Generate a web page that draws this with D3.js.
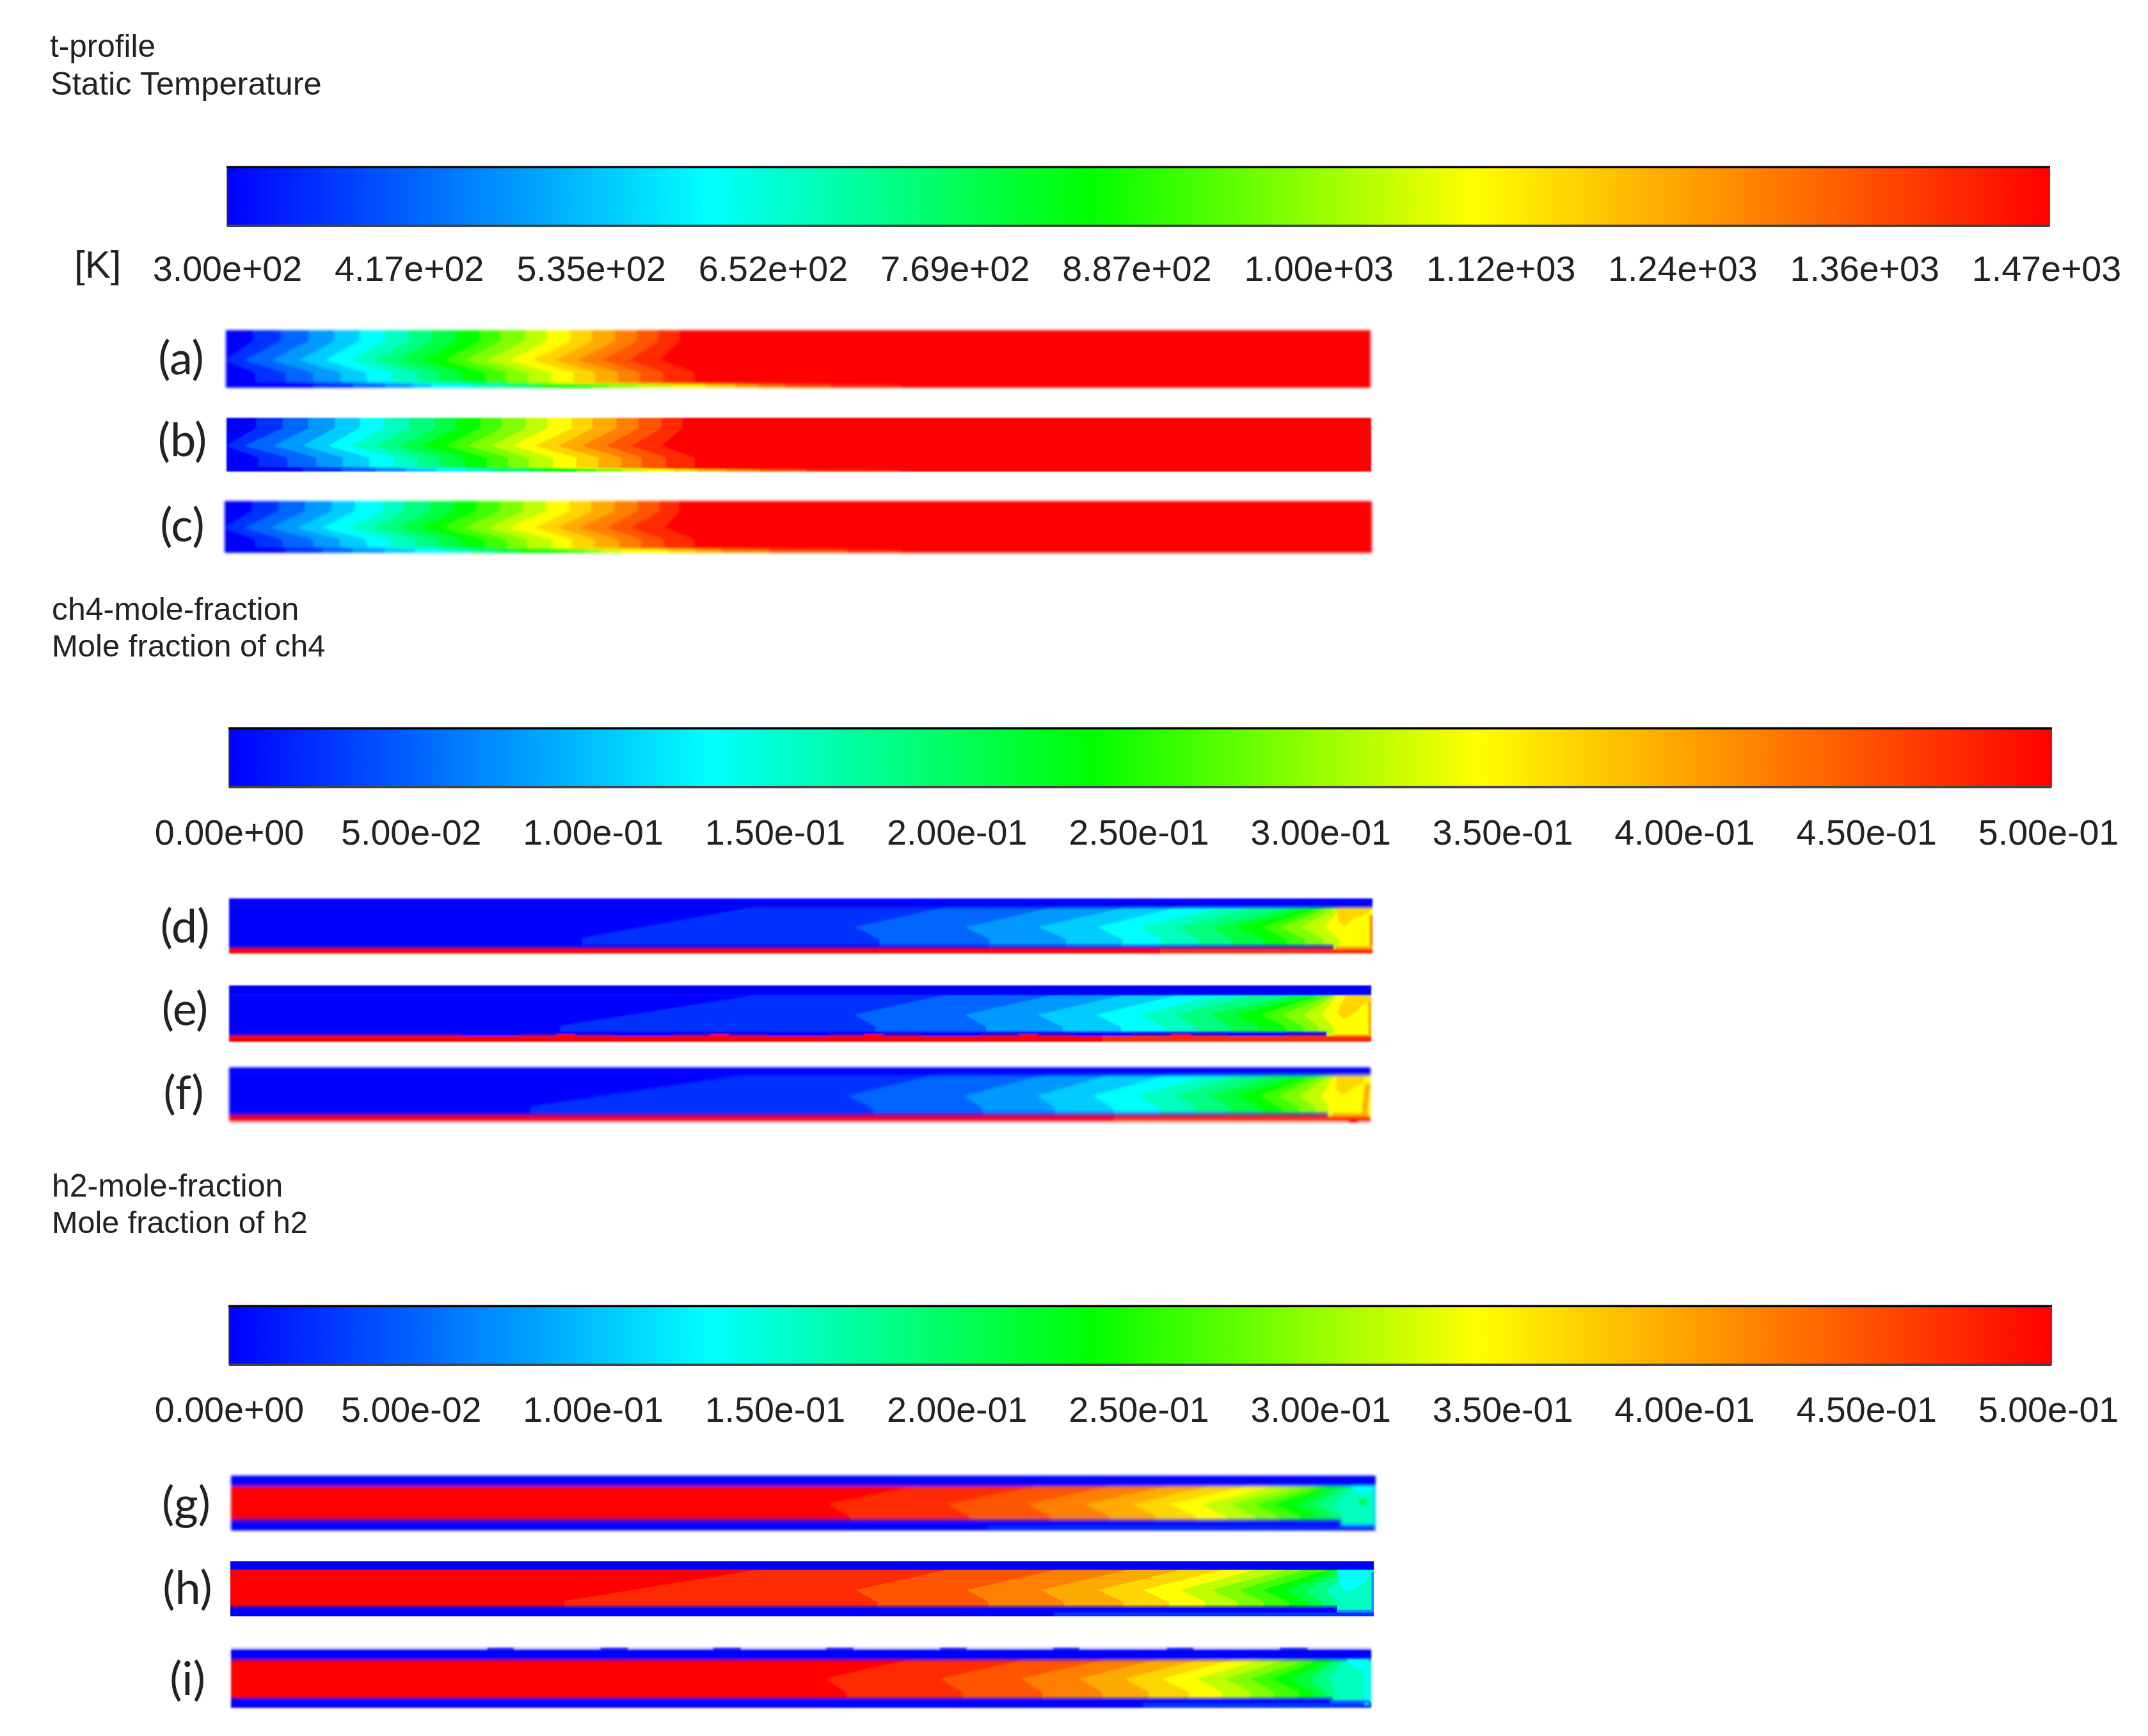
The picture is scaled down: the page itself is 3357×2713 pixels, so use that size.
<!DOCTYPE html>
<html>
<head>
<meta charset="utf-8">
<script src="https://cdn.jsdelivr.net/npm/d3@7"></script>
<style>
  html, body { margin: 0; background: #fff; }
  svg { display: block; }
  text { font-family: "Liberation Sans", Arial, sans-serif; fill: #222; }
</style>
</head>
<body>
<svg></svg>
<script>
// colour bar values
const tempTicks = [300, 417.4, 534.8, 652.2, 769.6, 887, 1004.4, 1121.8, 1239.2, 1356.6, 1474];
const tempLabels = ["3.00e+02", "4.17e+02", "5.35e+02", "6.52e+02", "7.69e+02", "8.87e+02", "1.00e+03", "1.12e+03", "1.24e+03", "1.36e+03", "1.47e+03"];
const moleTicks = [0, 0.05, 0.1, 0.15, 0.2, 0.25, 0.3, 0.35, 0.4, 0.45, 0.5];
const moleLabels = ["0.00e+00", "5.00e-02", "1.00e-01", "1.50e-01", "2.00e-01", "2.50e-01", "3.00e-01", "3.50e-01", "4.00e-01", "4.50e-01", "5.00e-01"];

// contour levels: index along the 20 step colour map
const levelStops = [0, 5, 9, 13, 19];
const levelColors = ["#0000ff", "#00ffff", "#00ff00", "#ffff00", "#ff0000"];
const tempLevels = d3.range(1, 20);
const ch4Levels = d3.range(1, 14);
const h2Levels = d3.range(18, 5, -1);

// axial position (per mille of tube length) of each level boundary
// at the upper wall, the centre line and the lower side
const aTop = [24, 48, 72, 94, 116, 138, 159, 179, 200, 221, 239, 260, 279, 299, 318, 338, 357, 376, 394];
const aTip = [0, 16, 40, 64, 86, 108, 129, 149, 169, 191, 208, 227, 247, 266, 286, 306, 327, 350, 377];
const aLow = [26, 52, 76, 100, 122, 145, 166, 185, 205, 226, 244, 263, 283, 302, 321, 341, 360, 380, 407];
const aWall = [77, 111, 139, 162, 179, 213, 242, 264, 276, 318, 333, 358, 389, 418, 443, 463, 486, 526, 587];

const bTop = [26, 49, 71, 94, 116, 137, 159, 181, 200, 221, 239, 260, 279, 300, 318, 339, 358, 378, 396];
const bTip = [0, 16, 41, 66, 88, 109, 130, 151, 170, 191, 210, 230, 249, 268, 289, 309, 330, 352, 378];
const bLow = [28, 53, 78, 101, 124, 145, 166, 186, 207, 226, 245, 263, 284, 304, 323, 343, 361, 382, 407];
const bWall = [66, 100, 130, 156, 182, 208, 233, 262, 276, 304, 321, 344, 367, 389, 409, 435, 464, 504, 585];

const cTop = [24, 47, 70, 93, 113, 137, 156, 178, 198, 219, 239, 259, 279, 299, 318, 338, 358, 377, 394];
const cTip = [0, 17, 40, 63, 84, 107, 129, 149, 169, 189, 208, 229, 246, 269, 289, 308, 331, 352, 381];
const cLow = [27, 50, 77, 100, 123, 143, 166, 185, 205, 226, 245, 262, 284, 301, 321, 342, 361, 381, 407];
const cWall = [53, 85, 111, 139, 165, 191, 213, 236, 256, 297, 313, 327, 344, 384, 409, 432, 473, 540, 587];

const dTop = [462, 628, 724, 786, 831, 867, 898, 933, 946, 959, 963, 969, 973];
const dTip = [309, 548, 644, 708, 759, 797, 829, 858, 880, 904, 920, 938, 958];
const dLow = [309, 569, 665, 732, 781, 815, 847, 877, 904, 925, 941, 957, 971];

const eTop = [459, 625, 719, 781, 829, 863, 893, 930, 946, 954, 963, 968, 970];
const eTip = [290, 548, 644, 708, 759, 798, 829, 858, 881, 904, 922, 941, 957];
const eLow = [290, 566, 663, 730, 781, 818, 847, 877, 901, 925, 941, 954, 967];

const fTop = [456, 620, 716, 772, 823, 858, 887, 917, 941, 952, 960, 965, 969];
const fTip = [264, 542, 644, 708, 756, 795, 829, 858, 880, 904, 920, 938, 957];
const fLow = [264, 564, 660, 724, 775, 815, 847, 877, 904, 922, 938, 952, 963];

const gTop = [599, 706, 770, 819, 856, 888, 912, 934, 950, 958, 963, 974, 982];
const gTip = [522, 626, 696, 746, 787, 820, 848, 872, 894, 910, 931, 947, 963];
const gLow = [541, 645, 716, 768, 808, 843, 869, 894, 915, 934, 950, 963, 971];

const hTop = [460, 626, 722, 785, 831, 867, 896, 923, 939, 960, 968, 976, 982];
const hTip = [292, 547, 644, 709, 759, 798, 831, 858, 883, 903, 923, 939, 958];
const hLow = [292, 566, 663, 729, 781, 821, 853, 881, 904, 926, 942, 955, 968];

const iTop = [597, 698, 768, 813, 851, 880, 904, 926, 944, 955, 966, 971, 976];
const iTip = [521, 622, 693, 744, 784, 817, 847, 872, 894, 912, 931, 947, 963];
const iLow = [540, 642, 712, 764, 805, 840, 869, 894, 915, 936, 950, 960, 968];

// wall layers: [z from, z to, r from, r to, level, opacity]
const dWalls = [[0, 1000, 0, 0.15, 0], [0, 1000, 0.15, 0.185, 0, 0.55], [0, 966, 0.83, 0.87, 0, 0.5], [0, 966, 0.87, 0.92, 0], [0, 966, 0.88, 0.92, 19, 0.5], [0, 815, 0.92, 1, 19], [815, 1000, 0.92, 1, 18]];
const eWalls = [[0, 1000, 0, 0.18, 0], [0, 961, 0.81, 0.83, 0, 0.5], [0, 961, 0.83, 0.9, 0], [0, 765, 0.9, 1, 19], [765, 1000, 0.9, 1, 18]];
const fWalls = [[0, 1000, 0, 0.13, 0], [0, 1000, 0.13, 0.165, 0, 0.55], [0, 963, 0.81, 0.85, 0, 0.5], [0, 963, 0.85, 0.89, 0], [0, 963, 0.85, 0.89, 19, 0.5], [0, 776, 0.89, 0.97, 19], [776, 1000, 0.89, 0.97, 18], [0, 1000, 0.97, 1, 19, 0.4]];
const gWalls = [[0, 1000, 0, 0.19, 0], [0, 1000, 0.19, 0.23, 0, 0.15], [0, 970, 0.78, 0.82, 0, 0.5], [0, 970, 0.82, 1, 0], [970, 1000, 0.92, 1, 0], [661, 1000, 0.92, 0.97, 1]];
const hWalls = [[0, 1000, 0, 0.155, 0], [0, 968, 0.8, 0.84, 0, 0.5], [0, 968, 0.84, 1, 0], [720, 1000, 0.93, 1, 1]];
const iWalls = [[0, 1000, 0, 0.045, 0, 0.22], [0, 1000, 0.045, 0.2, 0], [0, 1000, 0.2, 0.24, 0, 0.3], [0, 966, 0.82, 0.855, 0, 0.5], [0, 966, 0.855, 1, 0], [966, 1000, 0.9, 1, 1], [800, 966, 0.92, 1, 1]];

// short features on the wall: [z from, z to]
const ePurple = [[0, 203], [254, 337], [389, 472], [524, 607], [658, 740], [791, 874], [926, 961]];
const eTicks = [[286, 303], [421, 438], [556, 573], [691, 708], [825, 842]];
const iBumps = [[225, 248], [324, 348], [423, 447], [522, 546], [622, 645], [721, 744], [821, 844], [920, 944]];

// patches at the closed end of the tube: level, then [z, r] outline
const dPatches = [
  [14, [[969, 0.19], [1000, 0.19], [994, 0.3], [983, 0.36], [976, 0.52], [970, 0.4]]],
  [16, [[997.5, 0.3], [1000, 0.3], [1000, 0.92], [997.5, 0.92]]],
  [15, [[968, 0.87], [1000, 0.87], [1000, 0.92], [968, 0.92]]]
];
const ePatches = [
  [14, [[978, 0.18], [1000, 0.18], [1000, 0.32], [992, 0.35], [985, 0.5], [976, 0.6], [970, 0.5], [973, 0.35]]],
  [15, [[997.5, 0.3], [1000, 0.3], [1000, 0.9], [997.5, 0.9]]],
  [15, [[966, 0.87], [1000, 0.87], [1000, 0.9], [966, 0.9]]]
];
const fPatches = [
  [14, [[970, 0.17], [995, 0.17], [993, 0.3], [985, 0.38], [975, 0.5], [970, 0.4]]],
  [15, [[995, 0.3], [1000, 0.3], [997, 0.85], [992, 0.85]]],
  [15, [[966, 0.83], [998, 0.83], [998, 0.89], [966, 0.89]]],
  [19, [[980, 0.93], [990, 0.93], [988, 1], [982, 1]]]
];
const gPatches = [
  [5, [[978, 0.19], [998, 0.19], [998, 0.3], [985, 0.3]]],
  [8, [[985, 0.42], [992, 0.42], [992, 0.54], [985, 0.54]]],
  [4, [[998, 0.19], [1000, 0.19], [1000, 0.95], [998, 0.95]]],
  [3, [[969, 0.88], [1000, 0.88], [1000, 0.92], [969, 0.92]]]
];
const hPatches = [
  [5, [[968, 0.155], [996, 0.155], [996, 0.24], [992, 0.41], [986, 0.45], [980, 0.54], [974, 0.54], [970, 0.39]]],
  [3, [[998, 0.2], [1000, 0.2], [1000, 0.93], [998, 0.93]]],
  [3, [[969, 0.88], [1000, 0.88], [1000, 0.93], [969, 0.93]]]
];
const iPatches = [
  [5, [[978, 0.2], [996, 0.2], [996, 0.39], [985, 0.35]]],
  [5, [[994, 0.2], [998, 0.2], [998, 0.95], [994, 0.95]]],
  [2, [[964, 0.87], [998, 0.87], [998, 0.92], [964, 0.92]]]
];

const temperatureStrips = [
  { label: "(a)", top: aTop, tip: aTip, low: aLow, wall: aWall, rWall: 0.92 },
  { label: "(b)", top: bTop, tip: bTip, low: bLow, wall: bWall, rWall: 0.93 },
  { label: "(c)", top: cTop, tip: cTip, low: cLow, wall: cWall, rWall: 0.91 }
];
const moleStrips = [
  { label: "(d)", levels: ch4Levels, base: 0, top: dTop, tip: dTip, low: dLow, walls: dWalls, patches: dPatches, chTop: 0.15, capBot: 0.92, chBot: 0.83 },
  { label: "(e)", levels: ch4Levels, base: 0, top: eTop, tip: eTip, low: eLow, walls: eWalls, patches: ePatches, chTop: 0.18, capBot: 0.9, chBot: 0.81 },
  { label: "(f)", levels: ch4Levels, base: 0, top: fTop, tip: fTip, low: fLow, walls: fWalls, patches: fPatches, chTop: 0.13, capBot: 0.89, chBot: 0.81 },
  { label: "(g)", levels: h2Levels, base: 19, top: gTop, tip: gTip, low: gLow, walls: gWalls, patches: gPatches, chTop: 0.19, capBot: 0.92, chBot: 0.78 },
  { label: "(h)", levels: h2Levels, base: 19, top: hTop, tip: hTip, low: hLow, walls: hWalls, patches: hPatches, chTop: 0.155, capBot: 0.93, chBot: 0.8 },
  { label: "(i)", levels: h2Levels, base: 19, top: iTop, tip: iTip, low: iLow, walls: iWalls, patches: iPatches, chTop: 0.2, capBot: 0.9, chBot: 0.82 }
];

// layout, in page pixels
const width = 3357, height = 2713;
const tempBoxes = [[353, 2142, 516, 606, 2.2], [354, 2143, 653, 737, 0.8], [351, 2144, 783, 864, 2.2]];
const moleBoxes = [
  [358, 2145, 1404, 1490, 1.8], [358, 2143, 1540, 1628, 1], [358, 2142, 1668, 1754, 2],
  [361, 2150, 2306, 2392, 2], [360, 2147, 2440, 2526, 0.7], [361, 2143, 2574, 2669, 1.8]
];
const labelPos = [[283, 585], [285, 713], [285, 846], [289, 1473], [289, 1602], [287, 1733], [291, 2375], [293, 2507], [293, 2649]];

const levelColor = d3.scaleLinear().domain(levelStops).range(levelColors);

const svg = d3.select("svg")
  .attr("width", width)
  .attr("height", height)
  .attr("viewBox", [0, 0, width, height]);
const defs = svg.append("defs");

const barGradient = defs.append("linearGradient").attr("id", "rainbow");
barGradient.selectAll("stop")
  .data(levelStops)
  .enter().append("stop")
  .attr("offset", d => d / 19)
  .attr("stop-color", d => levelColor(d));

function drawColorBar(domain, ticks, labels, x0, x1, y0, y1, labelY) {
  // labels sit a little inside the right end of the bar
  const x = d3.scaleLinear().domain(domain).range([x0, x1 - 5]);
  svg.append("rect")
    .attr("x", x0).attr("y", y0)
    .attr("width", x1 - x0).attr("height", y1 - y0)
    .attr("fill", "url(#rainbow)")
    .attr("stroke", "#333")
    .attr("stroke-width", 1.5);
  svg.append("rect").attr("x", x0 - 1).attr("y", y0).attr("width", x1 - x0 + 2).attr("height", 3).attr("fill", "#000");
  svg.append("rect").attr("x", x0).attr("y", y1 - 2).attr("width", x1 - x0).attr("height", 4).attr("fill", "#444");

  const axis = d3.axisBottom(x)
    .tickValues(ticks)
    .tickSize(0)
    .tickPadding(0)
    .tickFormat((d, i) => labels[i]);
  const g = svg.append("g").attr("transform", `translate(0,${labelY})`).call(axis);
  g.select(".domain").remove();
  g.selectAll("text")
    .attr("y", 0)
    .attr("dy", 0)
    .style("font-family", '"Liberation Sans", Arial, sans-serif')
    .style("font-size", "55.6px")
    .style("fill", "#222");
}

function softFilter(id, blur) {
  const f = defs.append("filter")
    .attr("id", id)
    .attr("filterUnits", "userSpaceOnUse")
    .attr("x", 0).attr("y", 0).attr("width", width).attr("height", height);
  f.append("feGaussianBlur").attr("stdDeviation", blur);
}

function stripScales(box, end, name) {
  softFilter(name, box[4]);
  return {
    x: d3.scaleLinear().domain([0, end]).range([box[0], box[1]]),
    r: d3.scaleLinear().domain([0, 1]).range([box[2], box[3]]),
    g: svg.append("g").attr("filter", `url(#${name})`),
    end: end
  };
}

function drawBand(s, z0, z1, r0, r1, level, opacity) {
  s.g.append("rect")
    .attr("x", s.x(z0)).attr("y", s.r(r0))
    .attr("width", s.x(z1) - s.x(z0)).attr("height", s.r(r1) - s.r(r0))
    .attr("fill", levelColor(level))
    .attr("opacity", opacity === undefined ? 1 : opacity);
}

function drawContour(s, rows, level) {
  const area = d3.area()
    .curve(d3.curveLinear)
    .y(d => s.r(d[1]))
    .x0(d => s.x(d[0]))
    .x1(s.x(s.end));
  s.g.append("path").datum(rows).attr("d", area).attr("fill", levelColor(level));
}

// temperature strips: chevrons plus a thin lagging layer on the lower wall
temperatureStrips.forEach((strip, n) => {
  const s = stripScales(tempBoxes[n], 995, "softT" + n);
  drawBand(s, 0, s.end, 0, 1, 0);
  tempLevels.forEach((level, i) => {
    // the lagging layer gets thinner towards the hot end
    const rWall = strip.rWall + i * 0.002;
    drawContour(s, [
      [strip.top[i], 0],
      [strip.top[i], 0.19],
      [strip.tip[i], 0.52],
      [strip.low[i], 0.74],
      [strip.low[i], rWall - 0.03],
      [strip.wall[i], rWall],
      [strip.wall[i], 1]
    ], level);
  });
});

// mole fraction strips: walls, core flow and the closed end
moleStrips.forEach((strip, n) => {
  const s = stripScales(moleBoxes[n], 1000, "softM" + n);
  drawBand(s, 0, s.end, strip.chTop, strip.capBot, strip.base);
  strip.levels.forEach((level, i) => {
    const slanted = strip.tip[i] === strip.low[i];
    drawContour(s, [
      [strip.top[i], strip.chTop],
      [strip.tip[i], slanted ? 0.72 : 0.52],
      [strip.low[i], 0.74],
      [strip.low[i], strip.capBot]
    ], level);
  });
  strip.walls.forEach(w => drawBand(s, w[0], w[1], w[2], w[3], w[4], w[5]));
  strip.patches.forEach(p => {
    s.g.append("path")
      .datum(p[1])
      .attr("d", d3.line().x(d => s.x(d[0])).y(d => s.r(d[1])).curve(d3.curveLinearClosed))
      .attr("fill", levelColor(p[0]));
  });
  if (strip.label === "(e)") {
    ePurple.forEach(t => drawBand(s, t[0], t[1], 0.865, 0.9, 19, 0.4));
    eTicks.forEach(t => drawBand(s, t[0], t[1], 0.865, 0.9, 19));
  }
  if (strip.label === "(i)") {
    iBumps.forEach(t => drawBand(s, t[0], t[1], 0.012, 0.05, 0, 0.8));
  }
});

drawColorBar([300, 1474], tempTicks, tempLabels, 355, 3203, 260, 353, 439);
drawColorBar([0, 0.5], moleTicks, moleLabels, 358, 3206, 1137, 1230, 1320);
drawColorBar([0, 0.5], moleTicks, moleLabels, 358, 3206, 2040, 2133, 2222);

svg.append("text").text("[K]").attr("x", 116).attr("y", 434).style("font-size", "60px");

// titles: text, x, baseline, font size
const titles = [
  ["t-profile", 78, 89, 49.5], ["Static Temperature", 79, 148, 50.6],
  ["ch4-mole-fraction", 81, 969, 50], ["Mole fraction of ch4", 81, 1026, 49],
  ["h2-mole-fraction", 81, 1870, 50], ["Mole fraction of h2", 81, 1927, 48.6]
];
svg.selectAll("text.title")
  .data(titles)
  .enter().append("text")
  .attr("class", "title")
  .attr("x", d => d[1])
  .attr("y", d => d[2])
  .style("font-size", d => d[3] + "px")
  .text(d => d[0]);

// panel letters
const panelLabels = temperatureStrips.concat(moleStrips).map(d => d.label);
svg.selectAll("text.panel")
  .data(panelLabels)
  .enter().append("text")
  .attr("class", "panel")
  .attr("x", (d, i) => labelPos[i][0])
  .attr("y", (d, i) => labelPos[i][1])
  .attr("text-anchor", "middle")
  .style("font-family", "Lato, sans-serif")
  .style("font-size", "72px")
  .text(d => d);
</script>
</body>
</html>
